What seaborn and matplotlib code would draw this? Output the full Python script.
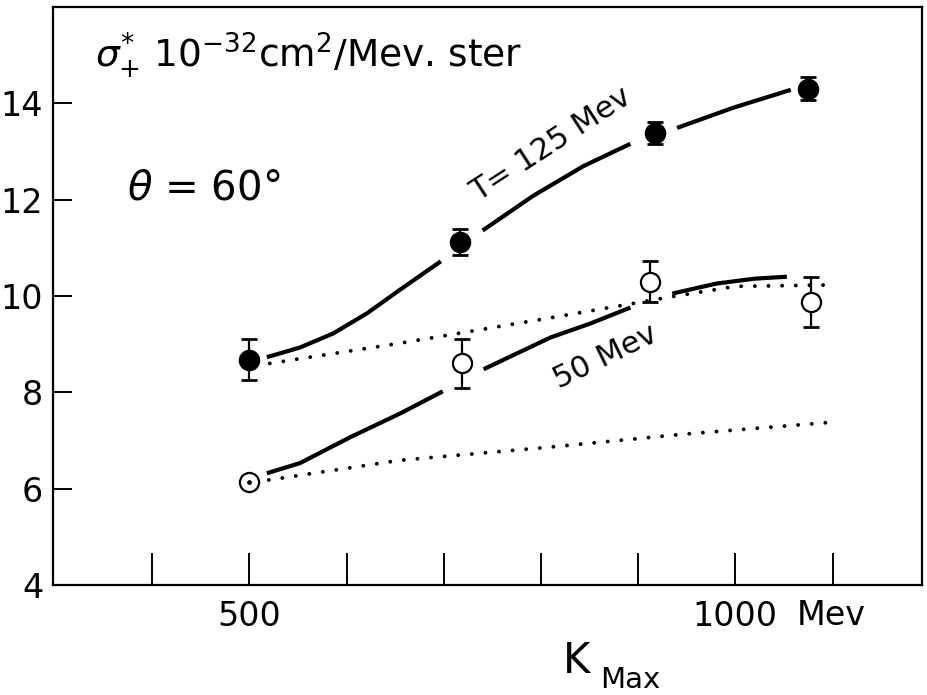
import numpy as np
import pandas as pd
import matplotlib
matplotlib.use("Agg")
import matplotlib.pyplot as plt
import seaborn as sns

# ---------------- data ----------------
k_filled = [500, 717, 917, 1075]
sig_filled = [8.68, 11.13, 13.39, 14.30]
err_filled = [0.42, 0.27, 0.23, 0.24]

k_open = [719, 912, 1078]
sig_open = [8.60, 10.30, 9.88]
err_open = [0.51, 0.42, 0.52]

k_dotc = [500]
sig_dotc = [6.13]

# T = 125 Mev curve (three pieces, gaps at data points)
c125_x = [518, 552, 586, 621, 655, 697, 740, 792, 844, 892, 940, 998, 1057]
c125_y = [8.73, 8.93, 9.22, 9.64, 10.13, 10.72, 11.36, 12.08, 12.70, 13.16, 13.49, 13.91, 14.28]
c125_seg = [0, 0, 0, 0, 0, 0, 1, 1, 1, 1, 2, 2, 2]

# 50 Mev curve
c50_x = [518, 552, 604, 655, 699, 741, 810, 851, 892, 935, 981, 1020, 1053]
c50_y = [6.32, 6.53, 7.07, 7.56, 8.02, 8.48, 9.14, 9.43, 9.76, 10.05, 10.26, 10.36, 10.40]
c50_seg = [0, 0, 0, 0, 0, 1, 1, 1, 1, 2, 2, 2, 2]

# dotted curves
dot_up_x = [521, 655, 799, 882, 930, 1000, 1101]
dot_up_y = [8.60, 9.02, 9.51, 9.80, 9.97, 10.20, 10.23]
dot_lo_x = [520, 655, 808, 946, 1100]
dot_lo_y = [6.18, 6.59, 6.86, 7.13, 7.38]

y_ticks = [4, 6, 8, 10, 12, 14]
x_ticks = [400, 500, 600, 700, 800, 900, 1000, 1100]
x_ticklabels = ["", "500", "", "", "", "", "1000", ""]

# ---------------- style ----------------
sns.set_style("white")
plt.rcParams["font.family"] = ["DejaVu Sans"]
plt.rcParams["mathtext.fontset"] = "dejavusans"
for key in ["text.color", "xtick.color", "ytick.color", "axes.labelcolor"]:
    plt.rcParams[key] = "black"

W, H = 928, 695
fig = plt.figure(figsize=(W / 100, H / 100), dpi=100)
L, R, T, B = 53, 922, 7, 585
ax = fig.add_axes([L / W, 1 - B / H, (R - L) / W, (B - T) / H])

# solid curves
df125 = pd.DataFrame({"k": c125_x, "s": c125_y, "seg": c125_seg})
sns.lineplot(data=df125, x="k", y="s", units="seg", estimator=None, sort=False,
             color="black", lw=3.0, ax=ax, solid_capstyle="butt")
df50 = pd.DataFrame({"k": c50_x, "s": c50_y, "seg": c50_seg})
sns.lineplot(data=df50, x="k", y="s", units="seg", estimator=None, sort=False,
             color="black", lw=3.0, ax=ax, solid_capstyle="butt")

# dotted curves
dotstyle = dict(color="black", lw=2.8, linestyle=(0, (0.01, 3.5)),
                dash_capstyle="round")
sns.lineplot(x=dot_up_x, y=dot_up_y, estimator=None, sort=False, ax=ax, **dotstyle)
sns.lineplot(x=dot_lo_x, y=dot_lo_y, estimator=None, sort=False, ax=ax, **dotstyle)

# error bars
ax.errorbar(k_filled, sig_filled, yerr=err_filled, fmt="none", ecolor="black",
            elinewidth=1.6, capsize=6, capthick=2.0, zorder=3)
ax.errorbar(k_open, sig_open, yerr=err_open, fmt="none", ecolor="black",
            elinewidth=1.6, capsize=6, capthick=2.0, zorder=3)

# markers
sns.scatterplot(x=k_filled, y=sig_filled, s=210, color="black", edgecolor="black",
                linewidth=1, ax=ax, zorder=4)
sns.scatterplot(x=k_open, y=sig_open, s=190, color="white", edgecolor="black",
                linewidth=1.6, ax=ax, zorder=4)
sns.scatterplot(x=k_dotc, y=sig_dotc, s=190, color="white", edgecolor="black",
                linewidth=1.6, ax=ax, zorder=4)
sns.scatterplot(x=k_dotc, y=sig_dotc, s=12, color="black", edgecolor="black",
                linewidth=0, ax=ax, zorder=5)

# axes
ax.set_xlim(298, 1192)
ax.set_ylim(4, 16)
ax.set_xlabel("")
ax.set_ylabel("")
ax.set_yticks(y_ticks)
ax.set_yticklabels([str(v) for v in y_ticks])
ax.set_xticks(x_ticks)
ax.set_xticklabels(x_ticklabels)
ax.tick_params(axis="y", direction="in", length=13.5, width=1.4, pad=7,
               labelsize=24, left=True, colors="black")
ax.tick_params(axis="x", direction="in", length=23, width=1.4, pad=11,
               labelsize=24, bottom=True, colors="black")
for sp in ax.spines.values():
    sp.set_visible(True)
    sp.set_color("black")
    sp.set_linewidth(1.6)
ax.grid(False)

# texts
fig.text(95 / W, 1 - 67 / H, r"$\sigma_{+}^{*}$ 10$^{-32}$cm$^{2}$/Mev. ster",
         fontsize=27, va="baseline", ha="left", color="black")
fig.text(127 / W, 1 - 200 / H, r"$\theta$ = 60°", fontsize=29, va="baseline",
         ha="left", color="black")
ax.text(810, 13.14, "T= 125 Mev", fontsize=22, rotation=33, ha="center", va="center",
        rotation_mode="anchor", color="black")
ax.text(866, 8.73, "50 Mev", fontsize=22, rotation=26, ha="center", va="center",
        rotation_mode="anchor", color="black")
fig.text(797 / W, 1 - 625 / H, "Mev", fontsize=24, va="baseline", ha="left", color="black")
fig.text(563 / W, 1 - 673 / H, "K", fontsize=30, va="baseline", ha="left", color="black")
fig.text(600 / W, 1 - 688 / H, "Max", fontsize=21, va="baseline", ha="left", color="black")

fig.savefig("out.png", dpi=100)
